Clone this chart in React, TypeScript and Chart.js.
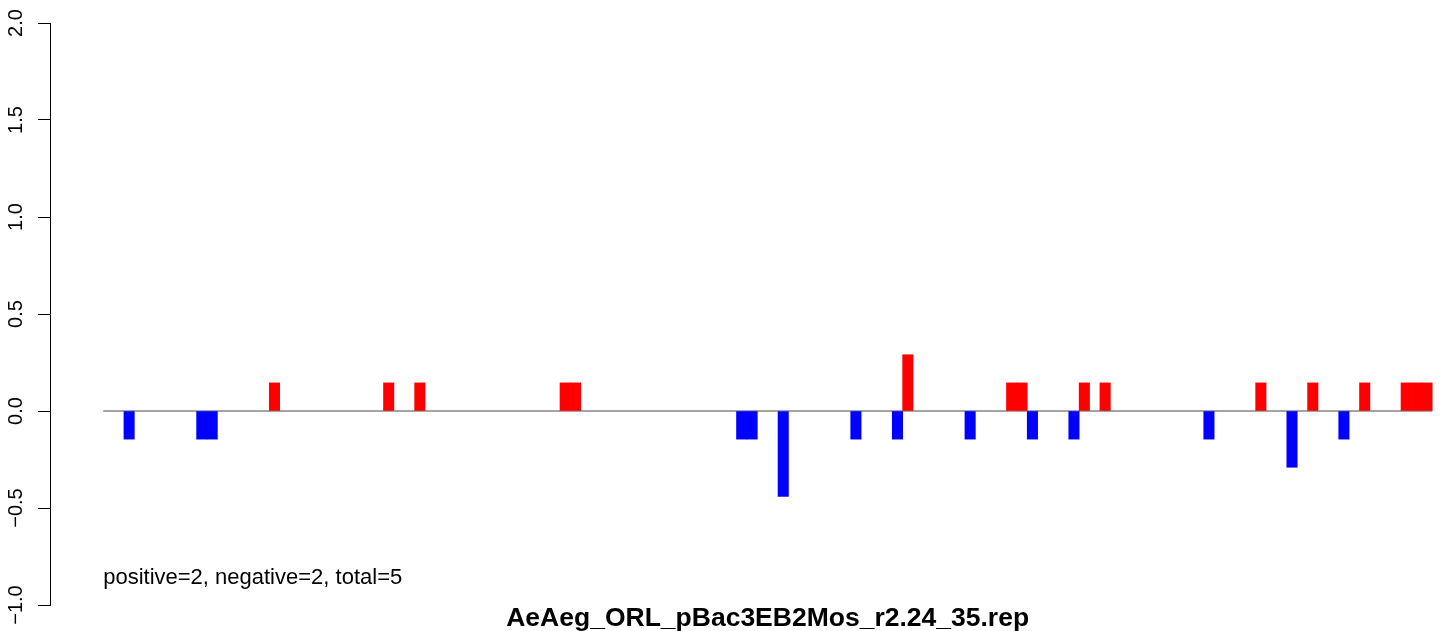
import React, { useEffect, useRef } from 'react';
import { Chart, registerables } from 'chart.js';

Chart.register(...registerables);

// Bin index (0..127) of each bar, and its value
const positions = [2, 9, 10, 16, 27, 30, 44, 45, 61, 62, 65, 72, 76, 77, 83, 87, 88, 89, 93, 94, 96, 106, 111, 114, 116, 119, 121, 125, 126, 127];
const values = [-0.145, -0.145, -0.145, 0.145, 0.145, 0.145, 0.145, 0.145, -0.145, -0.145, -0.44, -0.145, -0.145, 0.29, -0.145, 0.145, 0.145, -0.145, -0.145, 0.145, 0.145, -0.145, 0.145, -0.29, 0.145, -0.145, 0.145, 0.145, 0.145, 0.145];
const yTicks = [-1, -0.5, 0, 0.5, 1, 1.5, 2];
const baselineX = [0, 128];
const titleText = 'AeAeg_ORL_pBac3EB2Mos_r2.24_35.rep';
const noteText = 'positive=2, negative=2, total=5';
const noteY = -0.892;
const titleCenterX = 64;

const FONT = '"Liberation Sans", Arial, Helvetica, sans-serif';

function fmt(v: number): string {
  return (v < 0 ? '\u2212' : '') + Math.abs(v).toFixed(1);
}

export default function App() {
  const ref = useRef<HTMLCanvasElement>(null);

  useEffect(() => {
    document.body.style.margin = '0';
    const textPlugin = {
      id: 'texts',
      afterDraw(chart: any) {
        const { ctx } = chart;
        const x = chart.scales.x;
        const y = chart.scales.y;
        ctx.save();
        ctx.fillStyle = '#000';
        ctx.font = `22px ${FONT}`;
        ctx.textAlign = 'left';
        ctx.textBaseline = 'alphabetic';
        ctx.fillText(noteText, x.getPixelForValue(0), y.getPixelForValue(noteY));
        ctx.font = `bold 26.5px ${FONT}`;
        ctx.textAlign = 'center';
        ctx.fillText(titleText, x.getPixelForValue(titleCenterX), chart.height - 5);
        ctx.restore();
      },
    };

    const chart = new Chart(ref.current as HTMLCanvasElement, {
      type: 'bar',
      data: {
        datasets: [
          {
            type: 'bar',
            data: positions.map((p, i) => ({ x: p + 0.5, y: values[i] })),
            backgroundColor: values.map((v) => (v > 0 ? '#FF0000' : '#0000FF')),
            borderWidth: 0,
            barPercentage: 1,
            categoryPercentage: 1,
            order: 0,
          } as any,
          {
            type: 'line',
            data: baselineX.map((x) => ({ x, y: 0 })),
            borderColor: '#4a4a4a',
            borderWidth: 1.2,
            pointRadius: 0,
            fill: false,
            order: 1,
          } as any,
        ],
      },
      options: {
        animation: false,
        responsive: false,
        maintainAspectRatio: false,
        layout: { padding: { top: 23, bottom: 26, left: 0, right: 0 } },
        plugins: {
          legend: { display: false },
          tooltip: { enabled: false },
          title: { display: false },
        },
        scales: {
          x: {
            type: 'linear',
            min: -5.12,
            max: 129.62,
            offset: false,
            display: false,
          },
          y: {
            type: 'linear',
            min: -1,
            max: 2,
            afterFit: (s: any) => {
              s.width = 50;
            },
            afterBuildTicks: (s: any) => {
              s.ticks = yTicks.map((v) => ({ value: v }));
            },
            border: { display: true, color: '#000', width: 1 },
            grid: {
              display: true,
              drawOnChartArea: false,
              drawTicks: true,
              tickLength: 12,
              color: '#000',
              lineWidth: 1,
            },
            ticks: {
              autoSkip: false,
              minRotation: 90,
              maxRotation: 90,
              crossAlign: 'center',
              padding: 2,
              color: '#000',
              font: { family: FONT, size: 20 },
              callback: (v: any) => fmt(Number(v)),
            },
          } as any,
        },
      },
      plugins: [textPlugin],
    });

    return () => chart.destroy();
  }, []);

  return (
    <div style={{ width: 1449, height: 631 }}>
      <canvas ref={ref} width={1449} height={631} style={{ display: 'block' }} />
    </div>
  );
}
